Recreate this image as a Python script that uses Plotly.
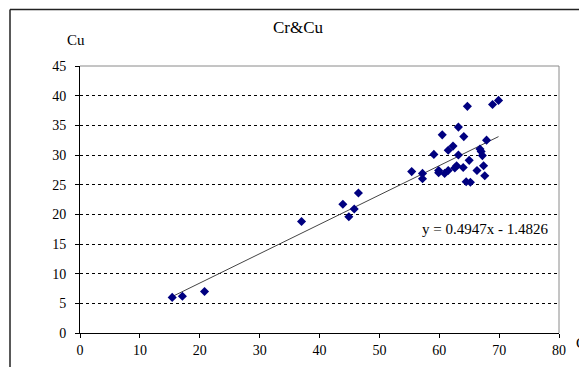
"""Cr&Cu scatter with linear trendline (Excel-style chart)."""
import plotly.graph_objects as go

# Cr (x) and Cu (y) content
cr = [15.4, 17.1, 20.8, 37.0, 43.9, 44.9, 45.8, 46.5, 55.4, 57.2,
      57.2, 59.1, 59.9, 59.9, 60.5, 60.9, 61.5, 61.5, 62.3, 62.6,
      62.9, 63.2, 63.2, 64.0, 64.1, 64.7, 64.5, 65.2, 65.0, 66.3,
      66.8, 67.0, 67.2, 67.4, 67.6, 67.9, 68.9, 69.9]
cu = [6.0, 6.2, 7.0, 18.8, 21.7, 19.6, 20.9, 23.6, 27.2, 26.9,
      26.0, 30.1, 27.4, 27.0, 33.4, 26.9, 30.8, 27.4, 31.5, 27.8,
      28.2, 34.7, 30.0, 27.9, 33.1, 38.2, 25.5, 25.4, 29.1, 27.4,
      31.0, 30.6, 29.9, 28.2, 26.5, 32.5, 38.5, 39.2]

# trendline as printed on the chart
slope = 0.4947
intercept = -1.4826

x_ticks = [0, 10, 20, 30, 40, 50, 60, 70, 80]
y_ticks = [0, 5, 10, 15, 20, 25, 30, 35, 40, 45]

# the page body has an 8px margin, so the figure is laid out in window pixels
OFF = 8
WIN_W, WIN_H = 587, 367
PL, PR, PT, PB = 80, 559, 66, 333          # plot area in window pixels
W, H = WIN_W - OFF, WIN_H - OFF
ML, MT = PL - OFF, PT - OFF
MR, MB = W - (PR - OFF), H - (PB - OFF)
PW, PH = PR - PL, PB - PT


def px(x):  # window pixel x -> paper
    return (x - PL) / PW


def py(y):  # window pixel y (from top) -> paper
    return (PB - y) / PH


FONT = "Liberation Serif, Times New Roman, serif"

fig = go.Figure()

x_fit = [min(cr), max(cr)]
fig.add_trace(go.Scatter(
    x=x_fit, y=[slope * v + intercept for v in x_fit],
    mode="lines", line=dict(color="#444444", width=1),
    showlegend=False, hoverinfo="skip",
))
fig.add_trace(go.Scatter(
    x=cr, y=cu, mode="markers",
    marker=dict(symbol="diamond", size=7, color="#000080"),
    showlegend=False,
))

axis_common = dict(
    showline=True, linecolor="black", linewidth=1,
    ticks="outside", ticklen=4, tickcolor="black",
    tickfont=dict(family=FONT, size=14, color="black"),
    zeroline=False, fixedrange=True,
)
fig.update_xaxes(range=[0, 80], tickvals=x_ticks, showgrid=False, **axis_common)
fig.update_yaxes(range=[0, 45], tickvals=y_ticks, showgrid=True,
                 gridcolor="black", gridwidth=1, griddash="dot",
                 ticklabelstandoff=6, **axis_common)

shapes = [
    # grey top/right border of plot area
    dict(type="line", xref="paper", yref="paper", x0=0, x1=1, y0=1, y1=1,
         line=dict(color="#8a8a8a", width=1)),
    dict(type="line", xref="paper", yref="paper", x0=1, x1=1, y0=0, y1=1,
         line=dict(color="#8a8a8a", width=1)),
    # outer chart frame (runs off the picture to right and bottom)
    dict(type="line", xref="paper", yref="paper", x0=px(10), x1=px(620),
         y0=py(9.5), y1=py(9.5), line=dict(color="#222222", width=1.5)),
    dict(type="line", xref="paper", yref="paper", x0=px(10), x1=px(10),
         y0=py(9.5), y1=py(400), line=dict(color="#222222", width=1.5)),
]

annotations = [
    dict(text="Cr&Cu", x=px(298), y=py(27), font=dict(size=17)),
    dict(text="Cu", x=px(76), y=py(40), font=dict(size=15)),
    dict(text="Cr", x=px(574), y=py(343), xanchor="left", font=dict(size=15)),
    dict(text=f"y = {slope:.4f}x - {abs(intercept):.4f}", x=px(485), y=py(229),
         font=dict(size=15)),
]
for a in annotations:
    a.update(xref="paper", yref="paper", showarrow=False, yanchor="middle")
    a.setdefault("xanchor", "center")
    a["font"].update(family=FONT, color="black")

fig.update_layout(
    width=W, height=H,
    margin=dict(l=ML, r=MR, t=MT, b=MB, autoexpand=False),
    paper_bgcolor="white", plot_bgcolor="white",
    shapes=shapes, annotations=annotations,
)

fig.write_html("out.html", config={"displayModeBar": False})
